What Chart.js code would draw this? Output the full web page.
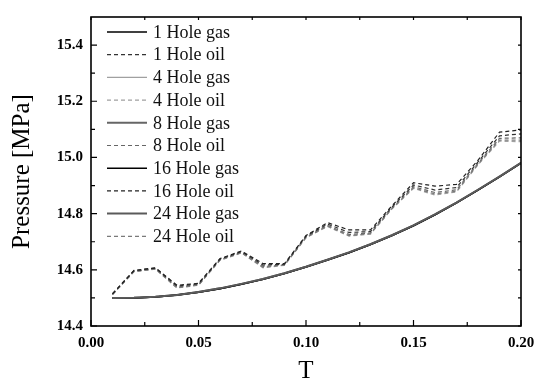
<!DOCTYPE html>
<html>
<head>
<meta charset="utf-8">
<script src="https://cdn.jsdelivr.net/npm/chart.js@4.4.1/dist/chart.umd.min.js"></script>
<style>
html,body{margin:0;padding:0;background:#fff;}
#wrap{width:543px;height:384px;position:relative;}
</style>
</head>
<body>
<div id="wrap"><canvas id="c" width="543" height="384"></canvas></div>
<script>
// ---- data ----
const tValues = [0.01,0.02,0.03,0.04,0.05,0.06,0.07,0.08,0.09,0.10,0.11,0.12,0.13,0.14,0.15,0.16,0.17,0.18,0.19,0.20];

const gas1  = [14.500,14.500,14.503,14.510,14.520,14.533,14.549,14.566,14.587,14.610,14.635,14.661,14.690,14.722,14.757,14.796,14.838,14.884,14.931,14.980];
const gas4  = [14.500,14.500,14.503,14.510,14.520,14.533,14.549,14.566,14.587,14.610,14.635,14.661,14.690,14.722,14.757,14.796,14.838,14.884,14.931,14.980];
const gas8  = [14.500,14.501,14.504,14.510,14.521,14.534,14.550,14.567,14.588,14.611,14.636,14.662,14.691,14.723,14.758,14.797,14.839,14.885,14.932,14.981];
const gas16 = [14.500,14.500,14.503,14.510,14.520,14.533,14.549,14.566,14.587,14.610,14.635,14.661,14.690,14.722,14.757,14.796,14.838,14.884,14.931,14.980];
const gas24 = [14.500,14.501,14.504,14.510,14.521,14.534,14.550,14.567,14.588,14.611,14.636,14.662,14.691,14.723,14.758,14.797,14.839,14.885,14.932,14.981];

const oil1  = [14.514,14.597,14.606,14.542,14.550,14.638,14.665,14.617,14.620,14.720,14.763,14.733,14.736,14.824,14.902,14.884,14.893,14.984,15.077,15.084];
const oil4  = [14.512,14.594,14.602,14.535,14.545,14.634,14.660,14.607,14.616,14.714,14.754,14.720,14.727,14.817,14.890,14.866,14.877,14.974,15.058,15.056];
const oil8  = [14.513,14.595,14.604,14.538,14.547,14.636,14.662,14.612,14.618,14.717,14.758,14.726,14.731,14.820,14.896,14.875,14.885,14.979,15.068,15.070];
const oil16 = [14.515,14.598,14.607,14.545,14.552,14.640,14.667,14.622,14.622,14.722,14.768,14.742,14.742,14.828,14.910,14.898,14.904,14.990,15.090,15.098];
const oil24 = [14.512,14.594,14.603,14.536,14.546,14.635,14.661,14.609,14.617,14.715,14.756,14.722,14.729,14.818,14.892,14.870,14.880,14.976,15.062,15.062];

const xTicks = [0.00,0.05,0.10,0.15,0.20];
const xMinorTicks = [0.025,0.075,0.125,0.175];
const yTicks = [14.4,14.6,14.8,15.0,15.2,15.4];
const yMinorTicks = [14.5,14.7,14.9,15.1,15.3];
const seriesNames = ['1 Hole gas','1 Hole oil','4 Hole gas','4 Hole oil','8 Hole gas','8 Hole oil','16 Hole gas','16 Hole oil','24 Hole gas','24 Hole oil'];
const seriesValues = [gas1,oil1,gas4,oil4,gas8,oil8,gas16,oil16,gas24,oil24];

// ---- styles ----
const styles = [
  {c:'#000000', w:1.5, d:[],    o:5},
  {c:'#333333', w:1.2, d:[4,3], o:2},
  {c:'#a0a0a0', w:1.2, d:[],    o:6},
  {c:'#a0a0a0', w:1.2, d:[4,3], o:4},
  {c:'#666666', w:2.0, d:[],    o:5},
  {c:'#666666', w:1.2, d:[4,3], o:3},
  {c:'#000000', w:1.5, d:[],    o:6},
  {c:'#222222', w:1.2, d:[4,3], o:1},
  {c:'#5a5a5a', w:2.0, d:[],    o:0},
  {c:'#7a7a7a', w:1.2, d:[4,3], o:2}
];

const datasets = seriesNames.map((name,i)=>({
  label: name,
  data: tValues.map((t,j)=>({x:t, y:seriesValues[i][j]})),
  borderColor: styles[i].c,
  borderWidth: styles[i].w,
  borderDash: styles[i].d,
  order: styles[i].o,
  pointRadius: 0,
  fill: false,
  tension: 0
}));

const SERIF = '"Liberation Serif","Times New Roman",serif';

const framePlugin = {
  id: 'frame',
  afterDatasetsDraw(chart){
    const {ctx, chartArea:a, scales:{x,y}} = chart;
    ctx.save();
    ctx.strokeStyle = '#000';
    ctx.lineWidth = 1.6;
    ctx.strokeRect(a.left, a.top, a.right-a.left, a.bottom-a.top);
    ctx.lineWidth = 1.2;
    ctx.beginPath();
    xTicks.forEach(v=>{const p=x.getPixelForValue(v); ctx.moveTo(p,a.bottom); ctx.lineTo(p,a.bottom-6); ctx.moveTo(p,a.top); ctx.lineTo(p,a.top+3);});
    xMinorTicks.forEach(v=>{const p=x.getPixelForValue(v); ctx.moveTo(p,a.bottom); ctx.lineTo(p,a.bottom-4); ctx.moveTo(p,a.top); ctx.lineTo(p,a.top+3);});
    yTicks.forEach(v=>{const p=y.getPixelForValue(v); ctx.moveTo(a.left,p); ctx.lineTo(a.left+6,p); ctx.moveTo(a.right,p); ctx.lineTo(a.right-3,p);});
    yMinorTicks.forEach(v=>{const p=y.getPixelForValue(v); ctx.moveTo(a.left,p); ctx.lineTo(a.left+4,p); ctx.moveTo(a.right,p); ctx.lineTo(a.right-3,p);});
    ctx.stroke();
    // legend
    const x0 = a.left + 16, x1 = a.left + 56, tx = a.left + 62;
    let yy = a.top + 15;
    const step = 22.7;
    ctx.font = '18px ' + SERIF;
    ctx.textBaseline = 'middle';
    ctx.fillStyle = '#111';
    chart.data.datasets.forEach(ds=>{
      ctx.save();
      ctx.strokeStyle = ds.borderColor;
      ctx.lineWidth = ds.borderWidth;
      ctx.setLineDash(ds.borderDash);
      ctx.beginPath();
      ctx.moveTo(x0, yy); ctx.lineTo(x1, yy);
      ctx.stroke();
      ctx.restore();
      ctx.fillText(ds.label, tx, yy+1);
      yy += step;
    });
    ctx.restore();
  }
};

new Chart(document.getElementById('c'), {
  type: 'line',
  data: { datasets },
  plugins: [framePlugin],
  options: {
    responsive: false,
    animation: false,
    events: [],
    layout: { padding: { left: 0, top: 8, right: 22, bottom: 0 } },
    plugins: { legend: { display: false }, tooltip: { enabled: false } },
    scales: {
      x: {
        type: 'linear', min: 0, max: 0.2,
        afterBuildTicks(s){ s.ticks = xTicks.map(v=>({value:v})); },
        afterFit(s){ s.height = 58; },
        grid: { display: false, drawTicks: false },
        border: { display: false },
        ticks: { padding: 8, color: '#000', font: { family: SERIF, size: 15, weight: 'bold' },
                 callback: v => v.toFixed(2), maxRotation: 0 },
        title: { display: true, text: 'T', color: '#000', font: { family: SERIF, size: 25, lineHeight: 1 }, padding: { top: 0, bottom: 0 } }
      },
      y: {
        type: 'linear', min: 14.4, max: 15.5,
        afterBuildTicks(s){ s.ticks = yTicks.map(v=>({value:v})); },
        afterFit(s){ s.width = 91; },
        grid: { display: false, drawTicks: false },
        border: { display: false },
        ticks: { padding: 8, color: '#000', font: { family: SERIF, size: 15, weight: 'bold' },
                 callback: v => v.toFixed(1) },
        title: { display: true, text: 'Pressure [MPa]', color: '#000', font: { family: SERIF, size: 25, lineHeight: 1 }, padding: { top: 10, bottom: 0 } }
      }
    }
  }
});
</script>
</body>
</html>
